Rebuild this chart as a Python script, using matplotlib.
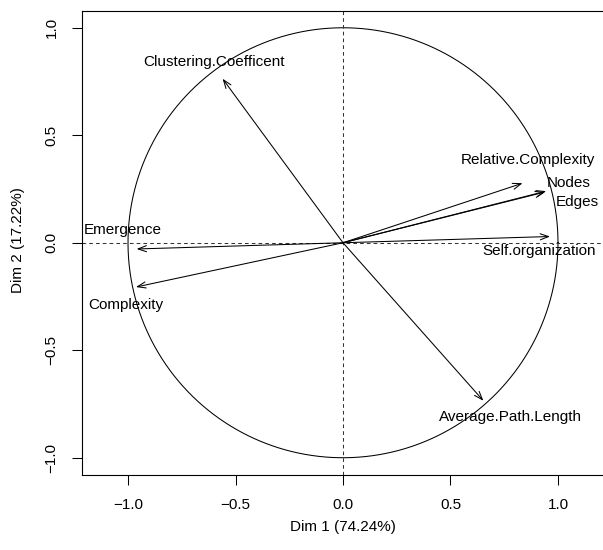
import numpy as np
import matplotlib
matplotlib.use('Agg')
import matplotlib.pyplot as plt

# variable coordinates on the first two dimensions
variables = ['Clustering.Coefficent', 'Relative.Complexity', 'Nodes', 'Edges',
             'Self.organization', 'Emergence', 'Complexity', 'Average.Path.Length']
dim1 = [-0.56, 0.835, 0.94, 0.945, 0.963, -0.96, -0.963, 0.653]
dim2 = [0.763, 0.277, 0.236, 0.240, 0.029, -0.029, -0.206, -0.735]
ticks = [-1.0, -0.5, 0.0, 0.5, 1.0]
tick_labels = ['\u22121.0', '\u22120.5', '0.0', '0.5', '1.0']

# label offsets from the arrow tip, in pixels (x right, y up)
label_offsets = {
    'Clustering.Coefficent': (-9, 17),
    'Relative.Complexity': (5, 23),
    'Nodes': (24, 9),
    'Edges': (31, -11),
    'Self.organization': (-11, -14),
    'Emergence': (-14, 19),
    'Complexity': (-10, -18),
    'Average.Path.Length': (27, -16),
}

plt.rcParams['font.family'] = ['Liberation Sans', 'DejaVu Sans']
FS = 11

W, H = 603, 550
fig = plt.figure(figsize=(W / 100, H / 100), dpi=100)
ax = fig.add_axes([82 / W, (H - 474.5) / H, (604 - 82) / W, (474.5 - 11) / H])
ax.set_xlim(-1.214, 1.214)
ax.set_ylim(-1.078, 1.078)

theta = np.linspace(0, 2 * np.pi, 400)
ax.plot(np.cos(theta), np.sin(theta), color='black', lw=0.75)
ax.axhline(0, color='0.2', lw=0.75, linestyle=(0, (3.5, 3)))
ax.axvline(0, color='0.2', lw=0.75, linestyle=(0, (3.5, 3)))

for name, x, y in zip(variables, dim1, dim2):
    ax.annotate('', xy=(x, y), xytext=(0, 0),
                arrowprops=dict(arrowstyle='->,head_length=0.6,head_width=0.22',
                                color='black', lw=0.75, shrinkA=0, shrinkB=0))
    dx, dy = label_offsets[name]
    ax.annotate(name, xy=(x, y), xytext=(dx, dy), textcoords='offset pixels',
                ha='center', va='center', fontsize=FS)

ax.set_xticks(ticks)
ax.set_xticklabels(tick_labels)
ax.set_yticks(ticks)
ax.set_yticklabels(tick_labels, rotation=90, va='center')
ax.tick_params(direction='out', length=7, width=0.75, labelsize=FS, pad=10)
ax.spines['right'].set_visible(False)
for s in ['left', 'top', 'bottom']:
    ax.spines[s].set_linewidth(0.8)

fig.text(343 / W, 1 - 527 / H, 'Dim 1 (74.24%)', ha='center', va='center', fontsize=FS)
fig.text(18 / W, 1 - 240 / H, 'Dim 2 (17.22%)', ha='center', va='center',
         rotation=90, fontsize=FS)

fig.savefig('out.png', dpi=100)
